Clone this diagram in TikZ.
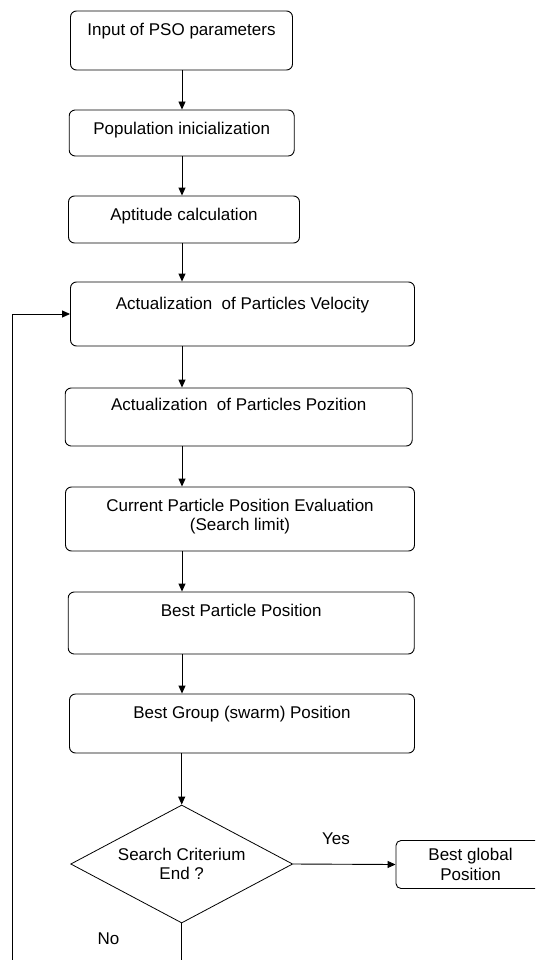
\documentclass[tikz,border=0pt]{standalone}
\usepackage{fontspec}
\setmainfont{Liberation Sans}
\usetikzlibrary{shapes.geometric,arrows.meta}
\begin{document}
\begin{tikzpicture}[x=1pt,y=-1pt,
    font=\fontsize{17}{19.5}\selectfont,
    stepbox/.style={draw, rounded corners=6pt, line width=0.9pt, inner sep=0pt},
    steptext/.style={anchor=north, inner sep=0pt, yshift=-12pt, align=center},
    decision/.style={draw, diamond, aspect=1.88, minimum width=222pt, minimum height=118pt, inner sep=0pt, align=center, line width=0.8pt},
    flow/.style={-{Triangle[length=8pt,width=7pt]}, line width=0.9pt}]
    \useasboundingbox (0,0) rectangle (535,960);
    \clip (0,0) rectangle (535,960);
    \coordinate (spine) at (182,0);

    % Initial steps
    \node[stepbox, minimum width=222pt, minimum height=59pt,
      label={[steptext]north:Input of PSO parameters}] (input) at (181.5,40.5) {};
    \node[stepbox, minimum width=225pt, minimum height=46pt,
      label={[steptext]north:Population inicialization}] (popinit) at (181.7,133) {};
    \node[stepbox, minimum width=231pt, minimum height=47pt,
      label={[steptext]north:Aptitude calculation}] (aptitude) at (184,219.5) {};

    % Main loop
    \node[stepbox, minimum width=344pt, minimum height=64pt,
      label={[steptext, yshift=-3pt]north:Actualization\ \ of Particles Velocity}] (velocity) at (242.5,314) {};
    \node[stepbox, minimum width=347pt, minimum height=58pt,
      label={[steptext, yshift=2pt]north:Actualization\ \ of Particles Pozition}] (pozition) at (238.7,417) {};
    \node[stepbox, minimum width=349pt, minimum height=64pt,
      label={[steptext]north:Current Particle Position Evaluation\\(Search limit)}] (evaluation) at (240,519) {};
    \node[stepbox, minimum width=346pt, minimum height=62pt,
      label={[steptext]north:Best Particle Position}] (bestparticle) at (241.2,623) {};
    \node[stepbox, minimum width=345pt, minimum height=59pt,
      label={[steptext]north:Best Group (swarm) Position}] (bestgroup) at (242,723.5) {};

    % Stop test
    \node[decision] (criterium) at (181.7,864) {Search Criterium\\End ?};
    \node[stepbox, rounded corners=5pt, minimum width=149pt, minimum height=48pt,
      align=center] (bestglobal) at (470.5,864.5) {Best global\\Position};
    \node (yes) at (336,839) {Yes};
    \node (no) at (108.5,939) {No};

    % Connectors
    \draw[flow] (input.south -| spine) -- (popinit.north -| spine);
    \draw[flow] (popinit.south -| spine) -- (aptitude.north -| spine);
    \draw[flow] (aptitude.south -| spine) -- (velocity.north -| spine);
    \draw[flow] (velocity.south -| spine) -- (pozition.north -| spine);
    \draw[flow] (pozition.south -| spine) -- (evaluation.north -| spine);
    \draw[flow] (evaluation.south -| spine) -- (bestparticle.north -| spine);
    \draw[flow] (bestparticle.south -| spine) -- (bestgroup.north -| spine);
    \draw[flow] (bestgroup.south -| criterium.north) -- (criterium.north);
    \draw[flow] (criterium.east) -- (bestglobal.west);

    % Back to velocity
    \coordinate (loopbottom) at (12,990);
    \draw[flow] (criterium.south) |- (loopbottom) |- (velocity.west);
\end{tikzpicture}
\end{document}
